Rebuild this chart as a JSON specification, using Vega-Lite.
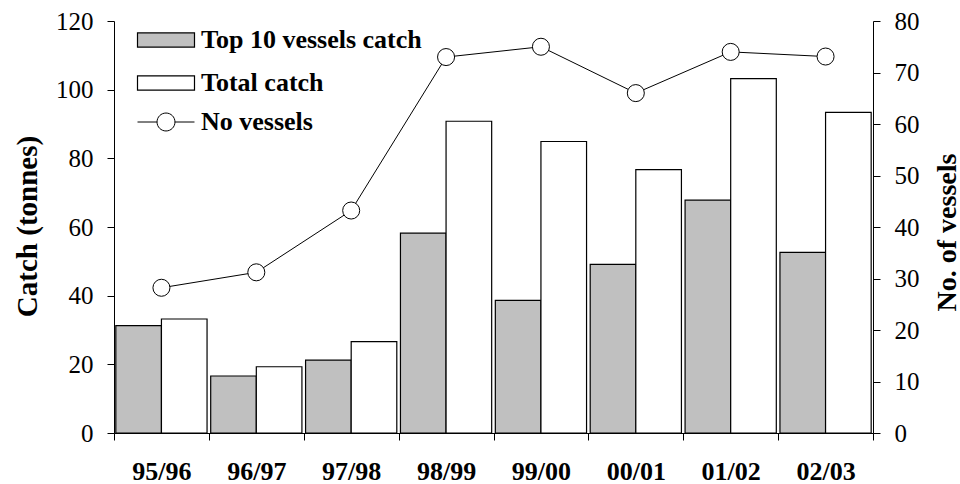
{
  "$schema": "https://vega.github.io/schema/vega-lite/v6.json",
  "width": 759,
  "height": 412,
  "autosize": "none",
  "padding": {"left": 114, "top": 21, "right": 87, "bottom": 51},
  "background": "white",
  "config": {
    "view": {"stroke": null},
    "font": "Liberation Serif",
    "axis": {"grid": false, "domainColor": "black", "tickColor": "black", "labelColor": "black", "titleColor": "black", "labelFont": "Liberation Serif", "titleFont": "Liberation Serif", "domainWidth": 1, "tickWidth": 1},
    "legend": {"labelFont": "Liberation Serif", "labelFontSize": 26, "labelFontWeight": "bold", "labelColor": "black", "padding": 0, "labelLimit": 400}
  },
  "datasets": {
    "catch": [
      {"season": "95/96", "series": "Top 10 vessels catch", "catch": 31.3},
      {"season": "95/96", "series": "Total catch", "catch": 33.2},
      {"season": "96/97", "series": "Top 10 vessels catch", "catch": 16.6},
      {"season": "96/97", "series": "Total catch", "catch": 19.3},
      {"season": "97/98", "series": "Top 10 vessels catch", "catch": 21.2},
      {"season": "97/98", "series": "Total catch", "catch": 26.6},
      {"season": "98/99", "series": "Top 10 vessels catch", "catch": 58.2},
      {"season": "98/99", "series": "Total catch", "catch": 90.8},
      {"season": "99/00", "series": "Top 10 vessels catch", "catch": 38.6},
      {"season": "99/00", "series": "Total catch", "catch": 84.9},
      {"season": "00/01", "series": "Top 10 vessels catch", "catch": 49.1},
      {"season": "00/01", "series": "Total catch", "catch": 76.7},
      {"season": "01/02", "series": "Top 10 vessels catch", "catch": 67.8},
      {"season": "01/02", "series": "Total catch", "catch": 103.2},
      {"season": "02/03", "series": "Top 10 vessels catch", "catch": 52.6},
      {"season": "02/03", "series": "Total catch", "catch": 93.4}
    ],
    "vessels": [
      {"season": "95/96", "series": "No vessels", "vessels": 28.2},
      {"season": "96/97", "series": "No vessels", "vessels": 31.2},
      {"season": "97/98", "series": "No vessels", "vessels": 43.2},
      {"season": "98/99", "series": "No vessels", "vessels": 73},
      {"season": "99/00", "series": "No vessels", "vessels": 75},
      {"season": "00/01", "series": "No vessels", "vessels": 66},
      {"season": "01/02", "series": "No vessels", "vessels": 74},
      {"season": "02/03", "series": "No vessels", "vessels": 73.1}
    ]
  },
  "layer": [
    {
      "data": {"name": "catch"},
      "mark": {"type": "bar", "stroke": "black", "strokeWidth": 1.2},
      "encoding": {
        "x": {
          "field": "season", "type": "nominal",
          "sort": ["95/96", "96/97", "97/98", "98/99", "99/00", "00/01", "01/02", "02/03"],
          "scale": {"paddingInner": 0, "paddingOuter": 0},
          "axis": {"title": null, "labelAngle": 0, "tickBand": "extent", "tickSize": 7, "labelPadding": 18, "labelFontSize": 26, "labelFontWeight": "bold", "labelFont": "Liberation Serif"}
        },
        "xOffset": {
          "field": "series", "type": "nominal",
          "scale": {"paddingInner": 0, "paddingOuter": 0.04}
        },
        "y": {
          "field": "catch", "type": "quantitative",
          "scale": {"domain": [0, 120], "nice": false},
          "axis": {"orient": "left", "values": [0, 20, 40, 60, 80, 100, 120], "tickSize": 7, "labelPadding": 14, "labelFontSize": 25, "title": "Catch (tonnes)", "titleFontSize": 29, "titleFontWeight": "bold", "titleAngle": 270, "titleAlign": "center", "titleBaseline": "middle", "titleX": -87, "titleY": 205}
        },
        "fill": {
          "field": "series", "type": "nominal",
          "scale": {"domain": ["Top 10 vessels catch", "Total catch"], "range": ["#c0c0c0", "#ffffff"]},
          "legend": {
            "title": null, "orient": "none", "legendX": 37, "legendY": 4,
            "symbolType": "M-2,-0.5H2V0.5H-2Z", "symbolSize": 812,
            "symbolStrokeColor": "black", "symbolStrokeWidth": 1.2,
            "labelOffset": 20, "rowPadding": 15,
            "encode": {"symbols": {"update": {"stroke": {"value": "black"}, "strokeWidth": {"value": 1.2}}}}
          }
        }
      }
    },
    {
      "data": {"name": "vessels"},
      "layer": [
        {
          "mark": {"type": "line", "strokeWidth": 1},
          "encoding": {
            "x": {"field": "season", "type": "nominal", "sort": ["95/96", "96/97", "97/98", "98/99", "99/00", "00/01", "01/02", "02/03"]},
            "y": {
              "field": "vessels", "type": "quantitative",
              "scale": {"domain": [0, 80], "nice": false},
              "axis": {"orient": "right", "values": [0, 10, 20, 30, 40, 50, 60, 70, 80], "tickSize": 7, "labelPadding": 14, "labelFontSize": 25, "title": "No. of vessels", "titleFontSize": 28, "titleFontWeight": "bold", "titleAngle": 270, "titleAlign": "center", "titleBaseline": "middle", "titleX": 74, "titleY": 211}
            },
            "stroke": {
              "field": "series", "type": "nominal",
              "scale": {"domain": ["No vessels"], "range": ["black"]},
              "legend": {
                "title": null, "orient": "none", "legendX": 37, "legendY": 86,
                "symbolType": "M-2,0H-0.63M0.63,0H2M-0.63,0A0.63,0.63 0 1,1 0.63,0A0.63,0.63 0 1,1 -0.63,0Z",
                "symbolSize": 812, "labelOffset": 20,
                "encode": {"symbols": {"update": {"fill": {"value": "white"}, "stroke": {"value": "black"}, "strokeWidth": {"value": 1}, "opacity": {"value": 1}}}}
              }
            }
          }
        },
        {
          "mark": {"type": "point", "filled": true, "fill": "white", "stroke": "black", "strokeWidth": 1, "size": 290, "opacity": 1},
          "encoding": {
            "x": {"field": "season", "type": "nominal", "sort": ["95/96", "96/97", "97/98", "98/99", "99/00", "00/01", "01/02", "02/03"]},
            "y": {"field": "vessels", "type": "quantitative"}
          }
        }
      ]
    }
  ],
  "resolve": {"scale": {"y": "independent"}}
}
